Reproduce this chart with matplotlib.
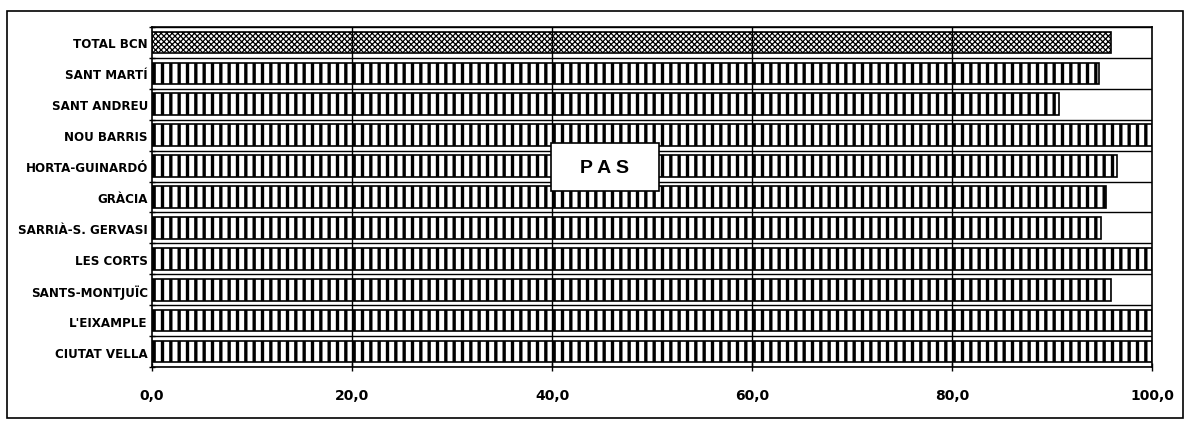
import matplotlib
matplotlib.use("Agg")
import matplotlib.pyplot as plt
from matplotlib.patches import Rectangle
import numpy as np

categories = ["CIUTAT VELLA", "L'EIXAMPLE", "SANTS-MONTJUÏC", "LES CORTS",
              "SARRIÀ-S. GERVASI", "GRÀCIA", "HORTA-GUINARDÓ", "NOU BARRIS",
              "SANT ANDREU", "SANT MARTÍ", "TOTAL BCN"]
values = [100.0, 100.0, 95.9, 100.0, 94.9, 95.4, 96.5, 100.0, 90.7, 94.7, 95.9]
xticks = [0, 20, 40, 60, 80, 100]
xticklabels = ["0,0", "20,0", "40,0", "60,0", "80,0", "100,0"]
title_box = "P A S"

plt.rcParams['font.family'] = ['DejaVu Sans']
plt.rcParams['hatch.linewidth'] = 2.4

fig = plt.figure(figsize=(11.98, 4.27), dpi=100)
ax = fig.add_axes([152/1198, 1-368/427, 1000/1198, 340/427])

y = np.arange(len(categories))
bars = ax.barh(y, values, height=0.7, color='white', edgecolor='black',
               linewidth=1.2, hatch='||', zorder=2)
tot = bars[-1]
tot.set_hatch('xxxxxx')
if hasattr(tot, 'set_hatch_linewidth'):
    tot.set_hatch_linewidth(0.9)

ax.set_xlim(0, 100)
ax.set_ylim(-0.5, len(categories) - 0.5)
ax.set_yticks(y)
ax.set_yticklabels(categories, fontsize=8.6, fontweight='bold')
ax.set_yticks(np.arange(-0.5, len(categories), 1.0), minor=True)
ax.tick_params(axis='y', which='major', length=0, pad=3)
ax.tick_params(axis='y', which='minor', length=5, direction='inout', width=1)
ax.set_xticks(xticks)
ax.set_xticklabels(xticklabels, fontsize=10, fontweight='bold')
ax.tick_params(axis='x', length=6, direction='inout', width=1, pad=12)

for b in np.arange(-0.5, len(categories), 1.0):
    ax.axhline(b, color='black', linewidth=1.0, zorder=1)
for xv in xticks[1:-1]:
    ax.axvline(xv, color='black', linewidth=1.0, zorder=3)

for s in ax.spines.values():
    s.set_linewidth(1.2)

ax.add_patch(Rectangle((0.399, 0.518), 0.108, 0.141, transform=ax.transAxes,
                       facecolor='white', edgecolor='black', linewidth=1.2, zorder=5))
ax.text(0.453, 0.588, title_box, transform=ax.transAxes, ha='center', va='center',
        fontsize=14, fontweight='bold', family=['Liberation Sans', 'DejaVu Sans'],
        zorder=6)

fig.patches.append(Rectangle((7/1198, 1-419/427), 1176/1198, 407/427,
                             transform=fig.transFigure, fill=False,
                             edgecolor='black', linewidth=1.2))

fig.savefig("out.png", dpi=100)
